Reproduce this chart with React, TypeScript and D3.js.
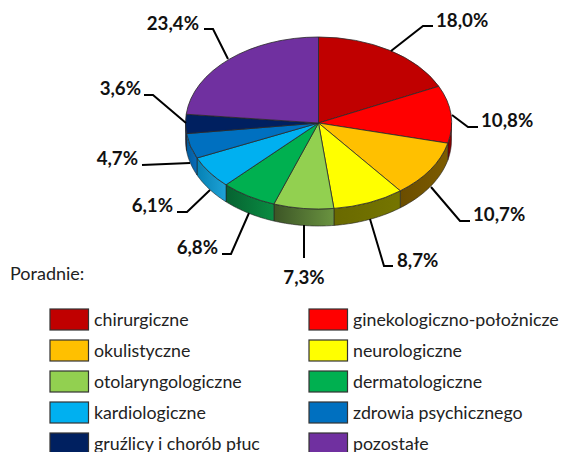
import React from 'react';
import * as d3 from 'd3';

const categories = [
  'chirurgiczne', 'ginekologiczno-położnicze', 'okulistyczne', 'neurologiczne',
  'otolaryngologiczne', 'dermatologiczne', 'kardiologiczne', 'zdrowia psychicznego',
  'gruźlicy i chorób płuc', 'pozostałe',
];
const values = [18.0, 10.8, 10.7, 8.7, 7.3, 6.8, 6.1, 4.7, 3.6, 23.4];
const labels = ['18,0%', '10,8%', '10,7%', '8,7%', '7,3%', '6,8%', '6,1%', '4,7%', '3,6%', '23,4%'];
const colors = ['#c00000', '#ff0000', '#ffc000', '#ffff00', '#92d050', '#00b050', '#00b0f0', '#0070c0', '#002060', '#7030a0'];
const wallFrom = ['#8c0000', '#8c0000', '#7d5c00', '#757500', '#6a9340', '#0a8c42', '#1ea2d6', '#0a6cb8', '#002060', '#7030a0'];
const wallTo = ['#7a0000', '#7a0000', '#6b4d00', '#696900', '#3c5526', '#066231', '#0581b4', '#005a9c', '#002060', '#7030a0'];

// leader lines: slice edge, elbow, label end
const leaders: [number, number][][] = [
  [[391, 51], [423, 26], [433, 26]],
  [[452, 115], [468, 127], [478, 127]],
  [[431, 187], [460, 221], [470, 221]],
  [[370, 219], [384, 266], [393, 266]],
  [[304, 225], [304, 258]],
  [[249, 213], [231, 254], [222, 254]],
  [[210, 190], [187, 212], [177, 212]],
  [[190, 163], [142, 165]],
  [[186, 123], [153, 95], [144, 95]],
  [[228, 59], [213, 29], [204, 29]],
];
const labelPos: [number, number, string][] = [
  [436, 27, 'start'],
  [481, 127, 'start'],
  [473, 221, 'start'],
  [397, 267, 'start'],
  [304, 284, 'middle'],
  [218, 254, 'end'],
  [173, 212, 'end'],
  [138, 165, 'end'],
  [141, 95, 'end'],
  [199, 30, 'end'],
];

const cx = 318.5;
const cy = 123;
const rx = 133;
const ry = 86;
const depth = 17;
const legendRows = [309, 340, 371, 402, 433];
const legendCols = [50, 309];
const font = 'Lato, "Open Sans", sans-serif';

const px = (a: number) => cx + rx * Math.sin(a);
const py = (a: number) => cy - ry * Math.cos(a);

export default function App() {
  const arcs = d3.pie<number>().sort(null)(values);
  const arc = d3.arc<d3.PieArcDatum<number>>().innerRadius(0).outerRadius(rx);
  const lineGen = d3.line();

  // side wall only for the part of the rim facing the viewer
  const walls = arcs.map((d, i) => {
    const a0 = Math.max(d.startAngle, Math.PI / 2);
    const a1 = Math.min(d.endAngle, (3 * Math.PI) / 2);
    if (a1 <= a0) return null;
    const p = d3.path();
    p.moveTo(px(a0), py(a0));
    const steps = d3.range(0, 25).map(k => a0 + ((a1 - a0) * (k + 1)) / 25);
    steps.forEach(a => p.lineTo(px(a), py(a)));
    steps.slice().reverse().forEach(a => p.lineTo(px(a), py(a) + depth));
    p.lineTo(px(a0), py(a0) + depth);
    p.closePath();
    return { i, d: p.toString(), x0: px(a0), x1: px(a1) };
  });

  return (
    <svg width={561} height={452} style={{ position: 'absolute', left: 0, top: 0 }} fontFamily={font}>
      <defs>
        {walls.map(w => w && (
          <linearGradient key={w.i} id={`wall-${w.i}`} gradientUnits="userSpaceOnUse" x1={w.x0} x2={w.x1} y1={0} y2={0}>
            <stop offset="0%" stopColor={wallFrom[w.i]} />
            <stop offset="100%" stopColor={wallTo[w.i]} />
          </linearGradient>
        ))}
      </defs>

      {walls.map(w => w && (
        <path key={w.i} d={w.d} fill={`url(#wall-${w.i})`} stroke="#222" strokeWidth={0.6} />
      ))}

      <g transform={`translate(${cx},${cy}) scale(1,${ry / rx})`}>
        {arcs.map((d, i) => (
          <path key={i} d={arc(d) ?? ''} fill={colors[i]} stroke="#2a2a2a" strokeWidth={0.8} vectorEffect="non-scaling-stroke" />
        ))}
      </g>

      {leaders.map((pts, i) => (
        <path key={i} d={lineGen(pts) ?? ''} fill="none" stroke="#000" strokeWidth={2} />
      ))}
      {labels.map((t, i) => (
        <text key={t} x={labelPos[i][0]} y={labelPos[i][1]} textAnchor={labelPos[i][2] as any}
          fontSize={18.7} fontWeight={700} fill="#111">{t}</text>
      ))}

      <text x={10} y={280} fontSize={18} fill="#222">Poradnie:</text>

      {categories.map((c, i) => {
        const col = i % 2;
        const row = Math.floor(i / 2);
        const x = legendCols[col];
        const y = legendRows[row];
        return (
          <g key={c}>
            <rect x={x} y={y} width={38.5} height={21} fill={colors[i]} stroke="#333" strokeWidth={1.2} />
            <text x={x + 44} y={y + 17} fontSize={17.8} fill="#222">{c}</text>
          </g>
        );
      })}
    </svg>
  );
}
